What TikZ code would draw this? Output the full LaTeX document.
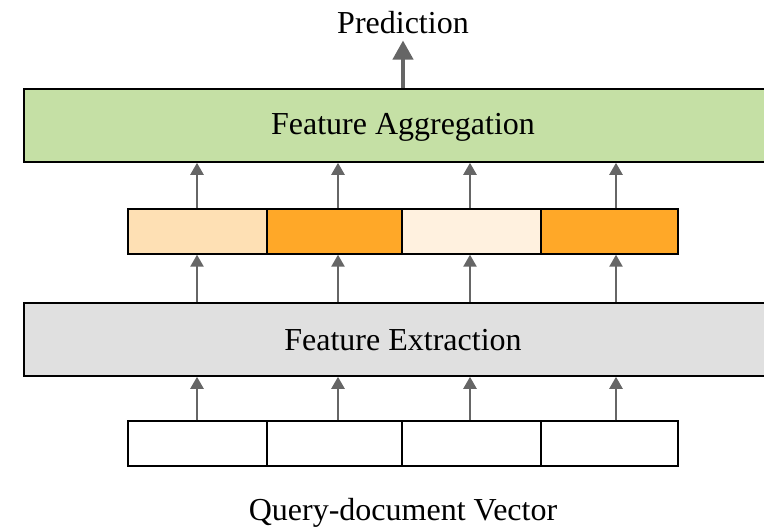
\documentclass[tikz,border=0pt]{standalone}
\usepackage{fontspec}
\setmainfont{Liberation Serif}
\usetikzlibrary{arrows.meta}

\definecolor{aggfill}{HTML}{C5E0A5}
\definecolor{extfill}{HTML}{E0E0E0}
\definecolor{peach}{HTML}{FEE0B4}
\definecolor{orange}{HTML}{FFA828}
\definecolor{cream}{HTML}{FFF1DF}
\definecolor{arrowgray}{HTML}{666666}

\tikzset{
  layer/.style={draw=black, line width=1.6pt, minimum height=73pt, inner sep=0pt},
  cell/.style={draw=black, line width=1.4pt, minimum height=45pt, inner sep=0pt},
  label/.style={font=\fontsize{32}{36}\selectfont, inner sep=0pt, anchor=base},
  flow/.style={draw=arrowgray, line width=2.4pt,
    -{Triangle[length=12pt, width=13pt]}},
  outflow/.style={draw=arrowgray, line width=4pt,
    -{Triangle[length=19pt, width=20pt]}},
}

\begin{document}
\begin{tikzpicture}[x=1pt, y=-1pt]
\useasboundingbox (0,0) rectangle (764,529);
\clip (0,0) rectangle (764,529);

% arrow columns
\coordinate (k1) at (197,0);
\coordinate (k2) at (338,0);
\coordinate (k3) at (470,0);
\coordinate (k4) at (616,0);

% processing layers
\node[layer, fill=aggfill, minimum width=758pt] (agg) at (403,125.5) {};
\node[layer, fill=extfill, minimum width=758pt] (ext) at (403,339.5) {};
\node[label] (aggtext) at (403,135) {Feature Aggregation};
\node[label] (exttext) at (403,351) {Feature Extraction};

% extracted feature cells
\node[cell, fill=peach,  minimum width=139pt] (c1) at (197.5,231.5) {};
\node[cell, fill=orange, minimum width=135pt] (c2) at (334.5,231.5) {};
\node[cell, fill=cream,  minimum width=139pt] (c3) at (471.5,231.5) {};
\node[cell, fill=orange, minimum width=137pt] (c4) at (609.5,231.5) {};

% input vector cells
\node[cell, fill=white, minimum width=139pt] (v1) at (197.5,443.5) {};
\node[cell, fill=white, minimum width=135pt] (v2) at (334.5,443.5) {};
\node[cell, fill=white, minimum width=139pt] (v3) at (471.5,443.5) {};
\node[cell, fill=white, minimum width=137pt] (v4) at (609.5,443.5) {};

% labels
\node[label] (pred) at (403,34) {Prediction};
\node[label] (qdv) at (403,521) {Query-document Vector};

% connectors
\foreach \i in {1,2,3,4} {
  \draw[flow] (v\i.north -| k\i) -- (ext.south -| k\i);
  \draw[flow] (ext.north -| k\i) -- (c\i.south -| k\i);
  \draw[flow] (c\i.north -| k\i) -- (agg.south -| k\i);
}
\draw[outflow] (agg.north) -- ([yshift=-6pt]pred.south);
\end{tikzpicture}
\end{document}
